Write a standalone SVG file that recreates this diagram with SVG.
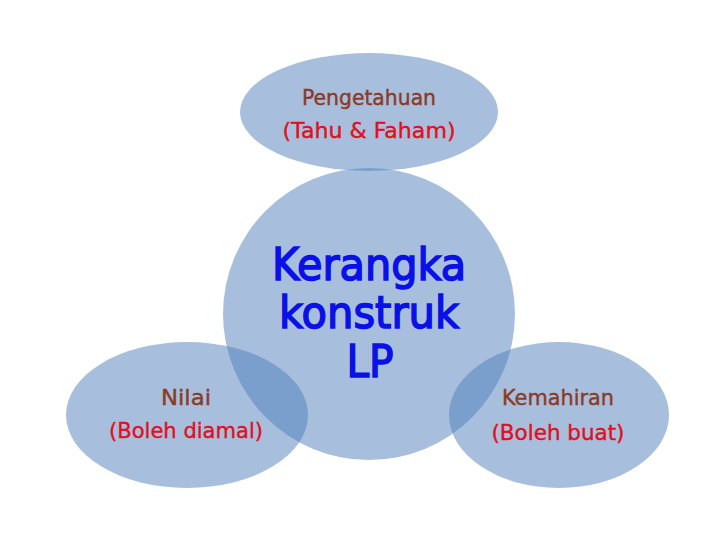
<svg xmlns="http://www.w3.org/2000/svg" width="720" height="540" viewBox="0 0 720 540">
<style>
.shape{fill:#4f7fbb;fill-opacity:0.5;stroke:none}
text{font-family:"Comic Sans MS","DejaVu Sans",sans-serif;text-anchor:middle}
.t1{fill:#8b3a26;stroke:#8b3a26;stroke-width:0.4px;font-size:21px}
.t2{fill:#e0101e;stroke:#e0101e;stroke-width:0.4px;font-size:21px}
.c{fill:#0a10e8;stroke:#0a10e8;stroke-width:1.6px;font-size:45px}
</style>
<rect width="720" height="540" fill="#ffffff"/>
<g id="connectors"></g>
<g id="top">
<ellipse class="shape" cx="369" cy="112" rx="129" ry="59"/>
<text class="t1" x="369" y="105" textLength="134" lengthAdjust="spacingAndGlyphs">Pengetahuan</text>
<text class="t2" x="369" y="138" textLength="173" lengthAdjust="spacingAndGlyphs">(Tahu &amp; Faham)</text>
</g>
<g id="center">
<circle class="shape" cx="369" cy="314" r="146"/>
<text class="c" x="369" y="280" textLength="194" lengthAdjust="spacingAndGlyphs">Kerangka</text>
<text class="c" x="369" y="328" textLength="180" lengthAdjust="spacingAndGlyphs">konstruk</text>
<text class="c" x="370" y="377" textLength="47" lengthAdjust="spacingAndGlyphs">LP</text>
</g>
<g id="left">
<ellipse class="shape" cx="187" cy="415" rx="121" ry="73"/>
<text class="t1" x="186" y="405" textLength="50" lengthAdjust="spacingAndGlyphs">Nilai</text>
<text class="t2" x="186" y="438" textLength="154" lengthAdjust="spacingAndGlyphs">(Boleh diamal)</text>
</g>
<g id="right">
<ellipse class="shape" cx="559" cy="415" rx="110" ry="73"/>
<text class="t1" x="558" y="405" textLength="112" lengthAdjust="spacingAndGlyphs">Kemahiran</text>
<text class="t2" x="558" y="440" textLength="133" lengthAdjust="spacingAndGlyphs">(Boleh buat)</text>
</g>
</svg>
